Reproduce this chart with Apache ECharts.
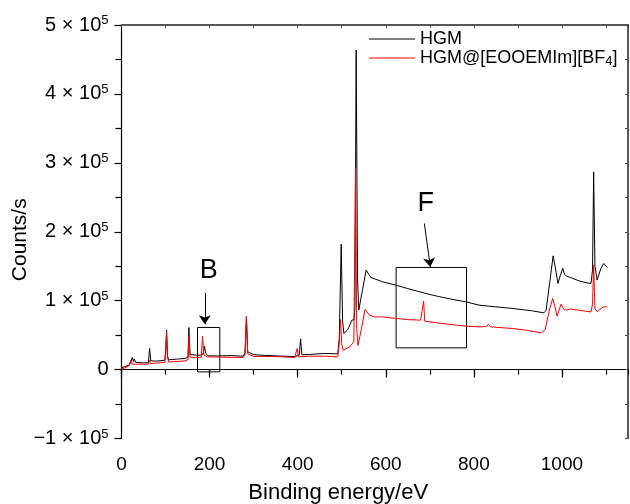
<!DOCTYPE html>
<html><head><meta charset="utf-8">
<script src="https://cdn.jsdelivr.net/npm/echarts@6/dist/echarts.min.js"></script>
<style>html,body{margin:0;padding:0;background:#fff}#c{width:630px;height:504px}</style>
</head><body><div id="c"></div>
<script>
// ---- data (binding energy eV, counts/s) ----
const seriesNames = ['HGM', 'HGM@[EOOEMIm][BF4]'];
const hgm = [
[0,2500],[8,4500],[18,6500],[22,9000],[24.5,17500],[27,11500],[29,15500],[32,10500],[36,9800],[50,9800],[61,10000],[63.8,30600],[66.5,12600],[80,12300],[98.5,13600],[100.5,30000],[102.4,57200],[104.5,20000],[107,14200],[125,15200],[144,16100],[151,18000],[153,61000],[155.5,22000],[158,19400],[170,20900],[180,21000],[185,22500],[188.5,34000],[191,24000],[196,20000],[220,19800],[250,20300],[276,19400],[280.5,24000],[283.6,76500],[286.5,26000],[290,23400],[300,21500],[350,19900],[393,18900],[403.5,21000],[406.6,44600],[409.5,21500],[427,21900],[461,23400],[491,22800],[494.5,45000],[498.8,182000],[502,70000],[505,52400],[514,58200],[523,71700],[528,72500],[530,90000],[532.8,463600],[536,130000],[538.8,86200],[547,115000],[555.5,144300],[566,133700],[593,127300],[623,122500],[650,117500],[691,110400],[720,106000],[750,102000],[782,98300],[812,93500],[850,91000],[888,88700],[933,85200],[959,82300],[964,86000],[972,125000],[980,165000],[985,148000],[991,125000],[996,136000],[1002,146700],[1006,138000],[1011,135600],[1020,133500],[1039,128700],[1055,126000],[1066,125000],[1069.5,145000],[1072,287000],[1075,150000],[1080,129800],[1088,146000],[1095,154000],[1103,148000]
];
const hgmIL = [
[0,600],[8,2500],[16,5000],[19,7000],[21.5,13600],[24,8000],[27,9500],[32,7800],[50,7800],[61,8000],[63.5,13600],[66,8800],[80,9500],[98.5,10300],[100.5,25000],[102.2,55000],[104.5,18000],[107,11000],[144,12600],[151,14500],[153,50000],[155.5,18000],[158,16000],[170,17500],[181,17800],[184,48500],[187,21000],[190,23000],[195,18500],[230,18000],[276,17500],[280.5,21000],[283.6,77500],[286.5,23000],[290,21900],[300,19000],[351,18900],[393,17500],[396.5,19000],[399,30600],[401.5,18500],[427,19400],[461,19400],[491,18400],[494,35000],[497.3,72700],[500,38000],[503,28200],[518,33000],[527.5,40200],[531.3,291900],[534,60000],[537,35000],[545,60000],[553,87200],[563,79000],[574,76500],[593,76500],[623,74200],[650,72500],[679,71700],[683.5,73000],[686,99300],[688.5,70200],[720,67500],[760,64500],[782,63000],[812,62000],[829,62500],[833,65900],[838,62000],[888,59600],[920,57000],[953,53300],[962,58200],[971,85000],[979,103200],[984,92000],[989,77500],[998,94900],[1004,88000],[1011,86200],[1018,88000],[1039,86000],[1066,83700],[1069.5,95000],[1072,151500],[1075,88000],[1080,84000],[1094,91000],[1103,91000]
];
// annotations (data coordinates)
const boxB = [[172.6, 61100], [223.2, -3300]];
const boxF = [[623.5, 148200], [783.4, 31500]];
const arrowB = [[189.2, 111300], [189.2, 65900]];
const arrowF = [[687.6, 212000], [701.2, 149000]];
const labelB = ['B', 198, 143300];
const labelF = ['F', 691, 241000];
const xRange = [0, 1150];
const yRange = [-100000, 500000];

const FONT = '"Liberation Sans", Arial, Helvetica, sans-serif';
const chart = echarts.init(document.getElementById('c'), null, {renderer: 'canvas'});

function yFmt(v) {
  if (v === 0) return '{a|0}';
  const m = v / 1e5;
  return '{a|' + (m < 0 ? '\u2212' : '') + Math.abs(m) + ' \u00d7 10}{s|5}';
}
function legendFmt(name) {
  if (name === seriesNames[1]) return '{a|HGM@[EOOEMIm][BF}{s|4}{a|]}';
  return '{a|' + name + '}';
}

const blackAx = {lineStyle: {color: '#000', width: 1.2}};
const option = {
  animation: false,
  backgroundColor: '#fff',
  grid: {left: 121.5, right: 2, top: 25, bottom: 65.5, outerBoundsMode: 'none'},
  legend: {
    orient: 'vertical', left: 369, top: 30, padding: 0, itemGap: 0,
    icon: 'rect', itemWidth: 46, itemHeight: 1,
    data: seriesNames,
    formatter: legendFmt,
    textStyle: {
      fontFamily: FONT, color: '#000',
      rich: {
        a: {fontFamily: FONT, fontSize: 18, lineHeight: 16, color: '#000'},
        s: {fontFamily: FONT, fontSize: 13, lineHeight: 16, color: '#000', padding: [7, 0, 0, 0]}
      }
    },
    selectedMode: false
  },
  xAxis: [
    {type: 'value', position: 'bottom', min: xRange[0], max: xRange[1], interval: 200,
     axisLine: blackAx, axisTick: {show: true, inside: false, length: 8, lineStyle: {color: '#000', width: 1.2}},
     axisLabel: {fontFamily: FONT, fontSize: 19, color: '#000', margin: 17, showMaxLabel: false,
       formatter: v => String(v)},
     splitLine: {show: false},
     name: 'Binding energy/eV', nameLocation: 'middle', nameGap: 43.5, nameMoveOverlap: false,
     nameTextStyle: {fontFamily: FONT, fontSize: 22, color: '#000', padding: [0, 73, 0, 0]}},
    {type: 'value', position: 'bottom', min: xRange[0], max: xRange[1], interval: 100,
     axisLine: {show: false}, axisTick: {show: true, length: 5, lineStyle: {color: '#000', width: 1.2}},
     axisLabel: {show: false}, splitLine: {show: false}},
    {type: 'value', position: 'top', min: xRange[0], max: xRange[1], interval: 100,
     axisLine: {lineStyle: {color: '#222', width: 1.5}},
     axisTick: {show: true, inside: true, length: 3, lineStyle: {color: '#444'}},
     axisLabel: {show: false}, splitLine: {show: false}}
  ],
  yAxis: [
    {type: 'value', position: 'left', min: yRange[0], max: yRange[1], interval: 100000,
     axisLine: {show: true, onZero: false, lineStyle: {color: '#000', width: 1.2}},
     axisTick: {show: true, inside: false, length: 7, lineStyle: {color: '#000', width: 1.2}},
     minorTick: {show: true, splitNumber: 2, length: 6, lineStyle: {color: '#000', width: 1.2}},
     axisLabel: {formatter: yFmt, margin: 13, rich: {
       a: {fontFamily: FONT, fontSize: 20, color: '#000', lineHeight: 22},
       s: {fontFamily: FONT, fontSize: 13, color: '#000', lineHeight: 12, verticalAlign: 'top'}
     }},
     splitLine: {show: false},
     name: 'Counts/s', nameLocation: 'middle', nameGap: 91, nameRotate: 90, nameMoveOverlap: false,
     nameTextStyle: {fontFamily: FONT, fontSize: 21, color: '#000', padding: [0, 16, 0, 0]}},
    {type: 'value', position: 'right', min: yRange[0], max: yRange[1], interval: 50000,
     axisLine: {show: true, onZero: false, lineStyle: {color: '#222', width: 1.5}},
     axisTick: {show: true, inside: true, length: 3, lineStyle: {color: '#444'}},
     axisLabel: {show: false}, splitLine: {show: false}}
  ],
  series: [
    {name: seriesNames[0], type: 'line', data: hgm, xAxisIndex: 0, yAxisIndex: 0,
     showSymbol: false, symbol: 'none', lineStyle: {color: '#000', width: 1}, itemStyle: {color: '#000'},
     silent: true, z: 2,
     markArea: {silent: true, itemStyle: {color: 'rgba(0,0,0,0)', borderColor: '#000', borderWidth: 1},
       data: [[{coord: boxB[0]}, {coord: boxB[1]}], [{coord: boxF[0]}, {coord: boxF[1]}]]},
     markLine: {silent: true, symbol: ['none', 'arrow'], symbolSize: 9,
       lineStyle: {color: '#000', width: 1, type: 'solid'}, label: {show: false},
       data: [[{coord: arrowB[0]}, {coord: arrowB[1]}], [{coord: arrowF[0]}, {coord: arrowF[1]}]]},
     markPoint: {silent: true, symbol: 'rect', symbolSize: 1, itemStyle: {color: 'rgba(0,0,0,0)'},
       label: {show: true, position: 'inside', formatter: p => p.name, fontFamily: FONT, fontSize: 27, color: '#000'},
       data: [{name: labelB[0], coord: [labelB[1], labelB[2]]}, {name: labelF[0], coord: [labelF[1], labelF[2]]}]}
    },
    {name: seriesNames[1], type: 'line', data: hgmIL, xAxisIndex: 0, yAxisIndex: 0,
     showSymbol: false, symbol: 'none', lineStyle: {color: '#ff0000', width: 1}, itemStyle: {color: '#ff0000'},
     silent: true, z: 3}
  ]
};
chart.setOption(option);
</script></body></html>
